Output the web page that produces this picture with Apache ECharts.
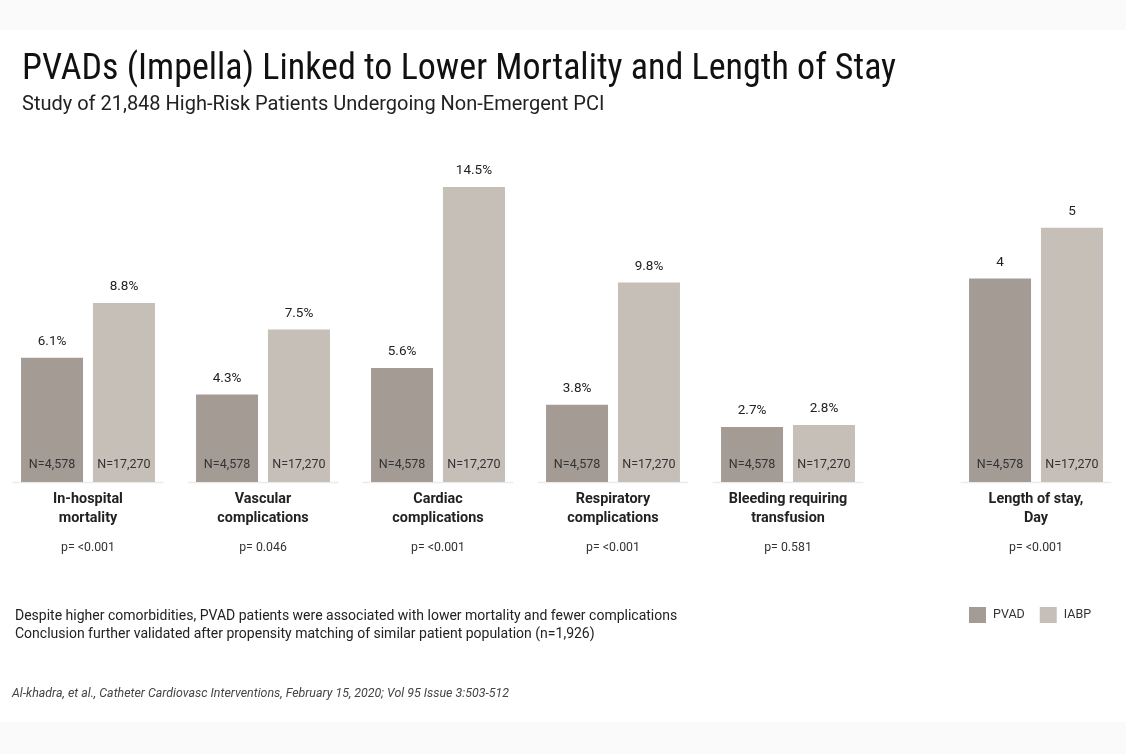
<!DOCTYPE html>
<html>
<head>
<meta charset="utf-8">
<script src="https://cdn.jsdelivr.net/npm/echarts@6/dist/echarts.min.js"></script>
<style>
  html, body { margin: 0; padding: 0; }
  body {
    background: linear-gradient(to bottom, #fafafa 0, #fafafa 30px, #ffffff 30px, #ffffff 722px, #fafafa 722px);
  }
  #chart { width: 1126px; height: 754px; }
</style>
</head>
<body>
<div id="chart"></div>
<script>
// outcome categories (percent scale)
var categories = ['In-hospital\nmortality', 'Vascular\ncomplications', 'Cardiac\ncomplications',
  'Respiratory\ncomplications', 'Bleeding requiring\ntransfusion'];
var pValues = ['<0.001', '0.046', '<0.001', '<0.001', '0.581'];
var pvad = [6.1, 4.3, 5.6, 3.8, 2.7];
var iabp = [8.8, 7.5, 14.5, 9.8, 2.8];

// length of stay (days)
var stayCategories = ['Length of stay,\nDay'];
var stayP = ['<0.001'];
var stayPvad = [4];
var stayIabp = [5];

var nPvad = 'N=4,578';
var nIabp = 'N=17,270';

var colPvad = '#a59b95';
var colIabp = '#c6bfb8';
var font = 'Roboto';

var myChart = echarts.init(document.getElementById('chart'));

function catLabel(names, ps) {
  return function (val, idx) {
    var lines = names[idx].split('\n').map(function (s) { return '{b|' + s + '}'; });
    return lines.join('\n') + '\n{p|p= ' + ps[idx] + '}';
  };
}

var axisRich = {
  b: { fontFamily: font, fontWeight: 'bold', fontSize: 14.4, lineHeight: 19, color: '#222' },
  p: { fontFamily: font, fontSize: 12.3, lineHeight: 39, color: '#333' }
};

function baseline(params, api) {
  var pt = api.coord([api.value(0), 0]);
  var w = api.size([1, 0])[0] * 0.43;
  return {
    type: 'line',
    shape: { x1: pt[0] - w, y1: pt[1] + 0.5, x2: pt[0] + w, y2: pt[1] + 0.5 },
    style: { stroke: '#ebebeb', lineWidth: 1.5 }
  };
}

function barSeries(name, data, color, axis, fmt) {
  return {
    name: name,
    type: 'bar',
    xAxisIndex: axis,
    yAxisIndex: axis,
    data: data,
    barWidth: 62,
    barGap: '16%',
    itemStyle: { color: color },
    z: 3,
    emphasis: { disabled: true },
    label: {
      show: true,
      position: 'top',
      distance: 9,
      fontFamily: font,
      fontSize: 13.5,
      color: '#222',
      formatter: fmt
    }
  };
}

// transparent twin bars on a hidden twin axis, carrying the N= labels
function nSeries(name, data, axis, nText) {
  return {
    name: name,
    type: 'bar',
    xAxisIndex: axis,
    yAxisIndex: axis,
    data: data,
    barWidth: 62,
    barGap: '16%',
    itemStyle: { color: 'rgba(0,0,0,0)' },
    z: 4,
    silent: true,
    label: {
      show: true,
      position: 'insideBottom',
      distance: 11,
      fontFamily: font,
      fontSize: 12.5,
      color: '#333',
      formatter: nText
    }
  };
}

var option = {
  animation: false,
  backgroundColor: 'transparent',
  title: [
    { text: 'PVADs (Impella) Linked to Lower Mortality and Length of Stay', left: 17, top: 47,
      textStyle: { fontFamily: 'Roboto Condensed, Liberation Sans Narrow, Roboto', fontSize: 36, fontWeight: 'normal', color: '#111' } },
    { text: 'Study of 21,848 High-Risk Patients Undergoing Non-Emergent PCI', left: 17, top: 90,
      textStyle: { fontFamily: font, fontSize: 20, fontWeight: 'normal', color: '#222' } },
    { text: 'Despite higher comorbidities, PVAD patients were associated with lower mortality and fewer complications\nConclusion further validated after propensity matching of similar patient population (n=1,926)',
      left: 10, top: 602,
      textStyle: { fontFamily: font, fontSize: 14, fontWeight: 'normal', color: '#222', lineHeight: 18 } },
    { text: 'Al-khadra, et al., Catheter Cardiovasc Interventions, February 15, 2020; Vol 95 Issue 3:503-512',
      left: 7, top: 683,
      textStyle: { fontFamily: font, fontSize: 12.4, fontStyle: 'italic', fontWeight: 'normal', color: '#444' } }
  ],
  legend: {
    data: ['PVAD', 'IABP'],
    left: 964, top: 602,
    icon: 'rect',
    itemWidth: 17, itemHeight: 16,
    itemGap: 15,
    selectedMode: false,
    textStyle: { fontFamily: font, fontSize: 12.5, color: '#333', padding: [0, 0, 0, 2] }
  },
  grid: [
    { left: 0.5, width: 875, top: 156.4, height: 325.6 },
    { left: 948.5, width: 175, top: 156.4, height: 325.6 }
  ],
  xAxis: [
    { type: 'category', gridIndex: 0, data: categories,
      axisLine: { show: false }, axisTick: { show: false },
      axisLabel: { interval: 0, margin: 8, formatter: catLabel(categories, pValues), rich: axisRich } },
    { type: 'category', gridIndex: 1, data: stayCategories,
      axisLine: { show: false }, axisTick: { show: false },
      axisLabel: { interval: 0, margin: 8, formatter: catLabel(stayCategories, stayP), rich: axisRich } },
    { type: 'category', gridIndex: 0, data: categories, show: false },
    { type: 'category', gridIndex: 1, data: stayCategories, show: false }
  ],
  yAxis: [
    { type: 'value', gridIndex: 0, min: 0, max: 16, show: false, splitLine: { show: false } },
    { type: 'value', gridIndex: 1, min: 0, max: 6.4, show: false, splitLine: { show: false } },
    { type: 'value', gridIndex: 0, min: 0, max: 16, show: false, splitLine: { show: false } },
    { type: 'value', gridIndex: 1, min: 0, max: 6.4, show: false, splitLine: { show: false } }
  ],
  series: [
    { type: 'custom', xAxisIndex: 0, yAxisIndex: 0, silent: true, z: 1,
      data: categories.map(function (c, i) { return [i]; }), renderItem: baseline },
    { type: 'custom', xAxisIndex: 1, yAxisIndex: 1, silent: true, z: 1,
      data: stayCategories.map(function (c, i) { return [i]; }), renderItem: baseline },
    barSeries('PVAD', pvad, colPvad, 0, '{c}%'),
    barSeries('IABP', iabp, colIabp, 0, '{c}%'),
    barSeries('PVAD', stayPvad, colPvad, 1, '{c}'),
    barSeries('IABP', stayIabp, colIabp, 1, '{c}'),
    nSeries('PVAD', pvad, 2, nPvad),
    nSeries('IABP', iabp, 2, nIabp),
    nSeries('PVAD', stayPvad, 3, nPvad),
    nSeries('IABP', stayIabp, 3, nIabp)
  ]
};

myChart.setOption(option);
</script>
</body>
</html>
